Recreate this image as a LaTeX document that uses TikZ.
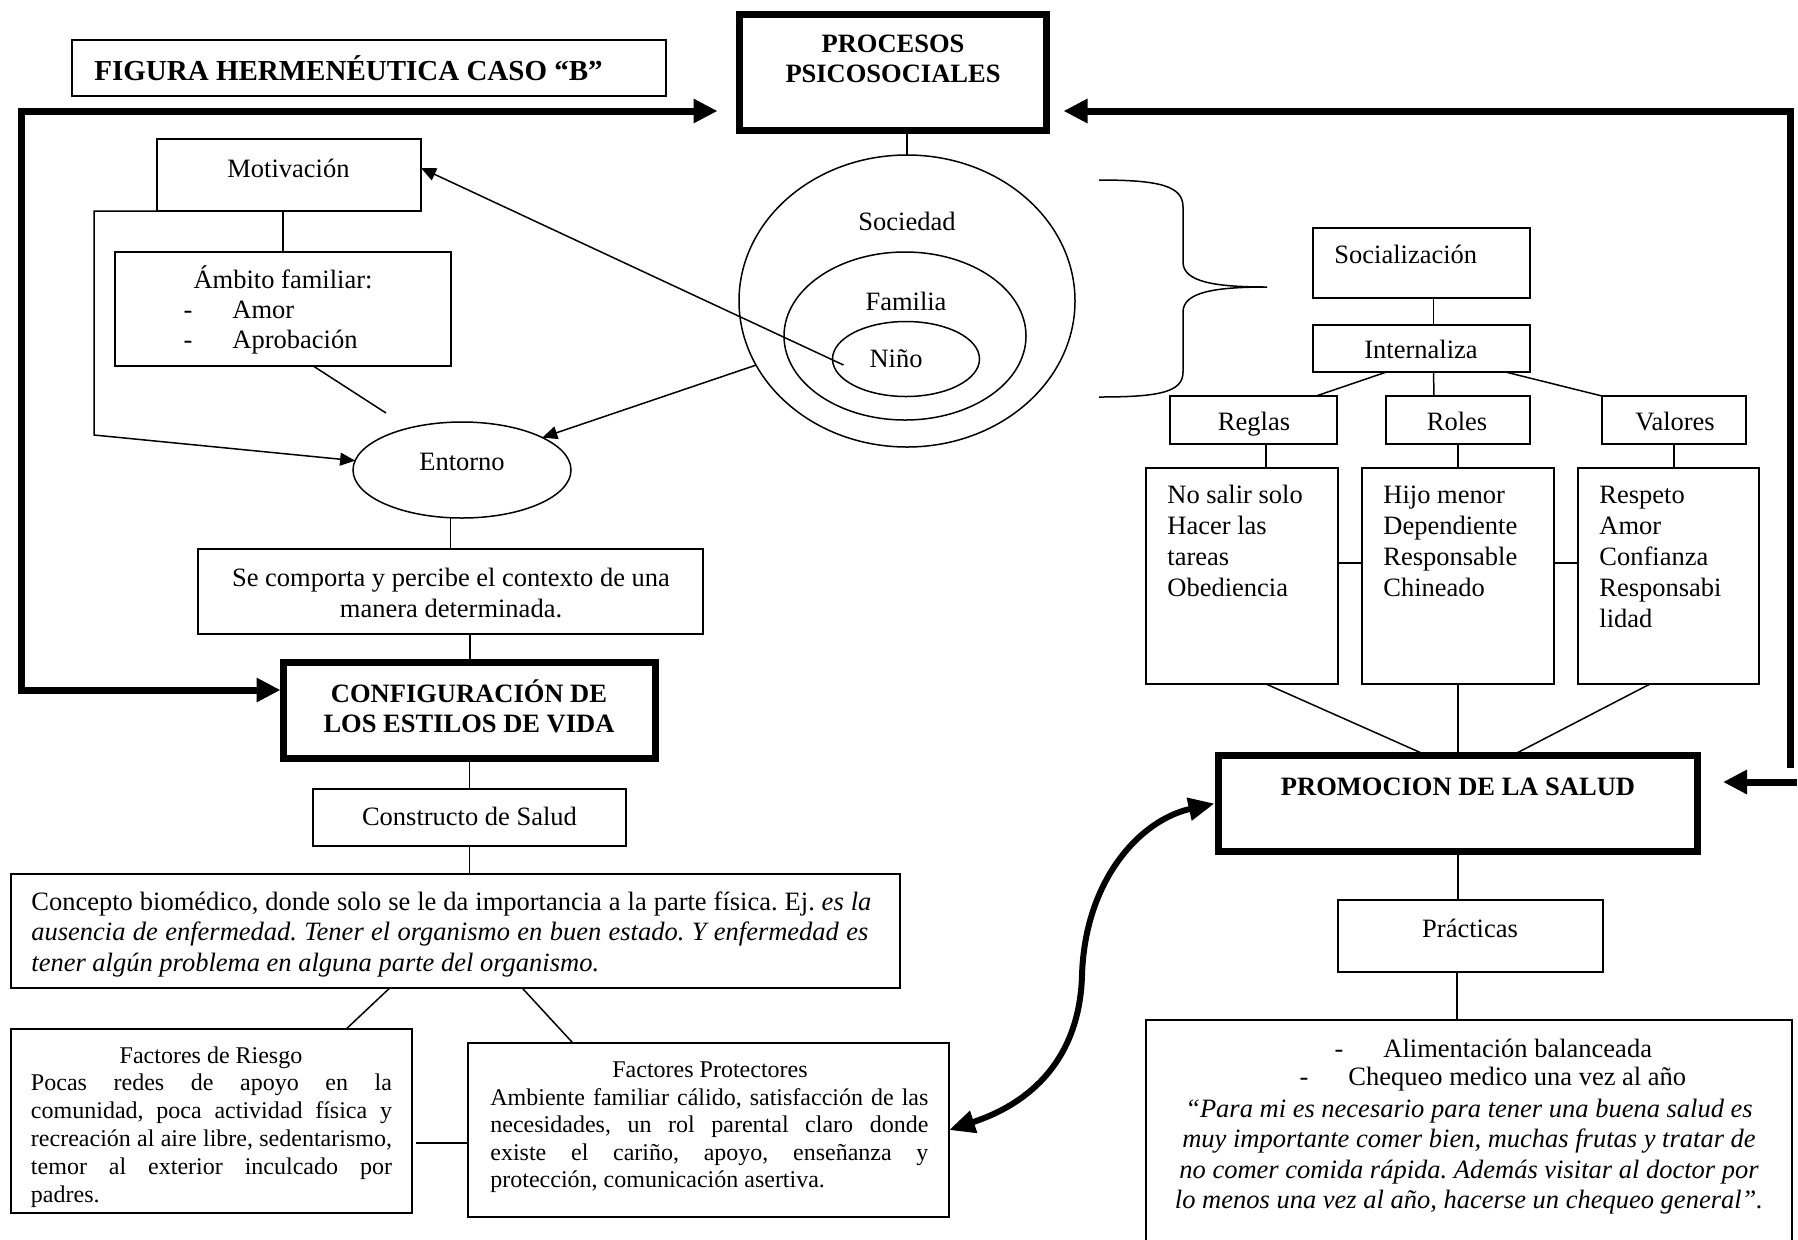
\documentclass[tikz,border=0pt]{standalone}
\usepackage{fontspec}
\setmainfont{Liberation Serif}
\usetikzlibrary{arrows.meta,shapes.geometric,calc}
\frenchspacing

\begin{document}
\begin{tikzpicture}[x=0.5pt, y=-0.5pt,
  rect/.style={draw, line width=0.75pt, inner sep=0pt, outer sep=0pt},
  heavy/.style={draw, line width=3.5pt, inner sep=0pt, outer sep=0pt},
  oval/.style={draw, ellipse, line width=0.75pt, inner sep=0pt, outer sep=0pt},
  txt/.style={inner sep=0pt, font=\fontsize{13.25}{15.5}\selectfont},
  stxt/.style={inner sep=0pt, font=\fontsize{12}{14}\selectfont},
  btxt/.style={inner sep=0pt, font=\fontsize{13.25}{15.5}\selectfont\bfseries},
  link/.style={line width=0.75pt},
  thinarrow/.style={line width=0.75pt, -{Triangle[length=7.5pt,width=6.5pt]}},
  loopline/.style={line width=3.5pt, line join=miter},
  bigtip/.style={-{Triangle[length=12pt,width=11.5pt]}},
  bigtips/.style={{Triangle[length=12pt,width=11.5pt]}-{Triangle[length=12pt,width=11.5pt]}},
  curvetips/.style={line width=3pt, {Triangle[length=13pt,width=11pt]}-{Triangle[length=13pt,width=11pt]}}
]
\clip (0,0) rectangle (1798,1239);
\fill[white] (0,0) rectangle (1798,1239);

% ---------- boxes and ovals ----------
\node[rect, minimum width=297pt, minimum height=28pt] (title) at (369,68) {};
\node[heavy, minimum width=153.5pt, minimum height=58pt] (proc) at (893,72.5) {};
\node[rect, minimum width=132pt, minimum height=36pt] (mot) at (289,175) {};
\node[rect, minimum width=168pt, minimum height=57pt] (amb) at (283,309) {};
\node[oval, minimum width=109pt, minimum height=48pt] (ent) at (462,470) {};
\node[rect, minimum width=252.5pt, minimum height=42.5pt] (comp) at (450.5,591.5) {};
\node[heavy, minimum width=186pt, minimum height=48pt] (cfg) at (469.5,710.5) {};
\node[rect, minimum width=156.5pt, minimum height=28.5pt] (cons) at (469.5,817.5) {};
\node[rect, minimum width=444.5pt, minimum height=57pt] (conc) at (455.5,931) {};
\node[rect, minimum width=200.5pt, minimum height=92pt] (rie) at (211.5,1121) {};
\node[rect, minimum width=240.5pt, minimum height=87pt] (prot) at (708.5,1130) {};
\node[oval, minimum width=168pt, minimum height=146pt] (soc) at (907,301) {};
\node[oval, minimum width=121pt, minimum height=84pt] (fam) at (905,336) {};
\node[oval, minimum width=73.5pt, minimum height=37.5pt] (nino) at (906,359) {};
\node[rect, minimum width=108.5pt, minimum height=35pt] (soci) at (1421.5,263) {};
\node[rect, minimum width=108.5pt, minimum height=23.5pt] (intz) at (1421.5,348.5) {};
\node[rect, minimum width=83.5pt, minimum height=24pt] (reg) at (1253.5,420) {};
\node[rect, minimum width=72pt, minimum height=24pt] (rol) at (1458,420) {};
\node[rect, minimum width=72pt, minimum height=24pt] (val) at (1674,420) {};
\node[rect, minimum width=96pt, minimum height=108pt] (regd) at (1242,576) {};
\node[rect, minimum width=96pt, minimum height=108pt] (rold) at (1458,576) {};
\node[rect, minimum width=90.5pt, minimum height=108pt] (vald) at (1668.5,576) {};
\node[heavy, minimum width=239.5pt, minimum height=48pt] (promo) at (1458,803.5) {};
\node[rect, minimum width=132.5pt, minimum height=36pt] (prac) at (1470.5,936) {};
\node[rect, minimum width=323pt, minimum height=120pt] (prax) at (1469,1140) {};

% ---------- texts ----------
\node[inner sep=0pt, font=\fontsize{14.5}{17}\selectfont\bfseries, anchor=base west] (ttitle) at (94,80) {FIGURA HERMENÉUTICA CASO “B”};
\node[btxt, anchor=base] (tproc1) at (893,52) {PROCESOS};
\node[btxt, anchor=base] (tproc2) at (893,82) {PSICOSOCIALES};
\node[txt, anchor=base] (tmot) at (288.5,177) {Motivación};
\node[txt, anchor=base] (tamb) at (283,288) {Ámbito familiar:};
\node[txt, anchor=base] (tambd1) at (188,318) {-};
\node[txt, anchor=base west] (tamb1) at (232,318) {Amor};
\node[txt, anchor=base] (tambd2) at (188,348) {-};
\node[txt, anchor=base west] (tamb2) at (232,348) {Aprobación};
\node[txt, anchor=base] (tent) at (462,470) {Entorno};
\node[txt, anchor=base] (tcomp1) at (451,586) {Se comporta y percibe el contexto de una};
\node[txt, anchor=base] (tcomp2) at (451,617) {manera determinada.};
\node[btxt, anchor=base] (tcfg1) at (469,702) {CONFIGURACIÓN DE};
\node[btxt, anchor=base] (tcfg2) at (469,732) {LOS ESTILOS DE VIDA};
\node[txt, anchor=base] (tcons) at (469.5,825) {Constructo de Salud};
\node[txt, anchor=base west] (tconc1) at (31,910) {\makebox[420pt][s]{Concepto biomédico, donde solo se le da importancia a la parte física. Ej. \textit{es la}}};
\node[txt, anchor=base west] (tconc2) at (31,940) {\makebox[418.5pt][s]{\itshape ausencia de enfermedad. Tener el organismo en buen estado. Y enfermedad es}};
\node[txt, anchor=base west] (tconc3) at (31,971) {\itshape tener algún problema en alguna parte del organismo.};

\node[stxt, anchor=base] (trie) at (211,1063) {Factores de Riesgo};
\foreach \s [count=\i] in {{Pocas redes de apoyo en la},{comunidad, poca actividad física y},{recreación al aire libre, sedentarismo,},{temor al exterior inculcado por}}
  \node[stxt, anchor=base west] (trie\i) at (30.6,{1090+28*(\i-1)}) {\makebox[180.5pt][s]{\s}};
\node[stxt, anchor=base west] (trie5) at (30.6,1202) {padres.};

\node[stxt, anchor=base] (tprot) at (710,1077) {Factores Protectores};
\foreach \s [count=\i] in {{Ambiente familiar cálido, satisfacción de las},{necesidades, un rol parental claro donde},{existe el cariño, apoyo, enseñanza y}}
  \node[stxt, anchor=base west] (tprot\i) at (490,{1105+27.5*(\i-1)}) {\makebox[219pt][s]{\s}};
\node[stxt, anchor=base west] (tprot4) at (490,1187) {protección, comunicación asertiva.};

\node[txt, anchor=base] (tsoc) at (907,230) {Sociedad};
\node[txt, anchor=base] (tfam) at (906,310) {Familia};
\node[txt, anchor=base] (tnino) at (896,367) {Niño};

\node[txt, anchor=base west] (tsoci) at (1334,263) {Socialización};
\node[txt, anchor=base] (tintz) at (1421,358) {Internaliza};
\node[txt, anchor=base] (treg) at (1254,430) {Reglas};
\node[txt, anchor=base] (trol) at (1457,430) {Roles};
\node[txt, anchor=base] (tval) at (1675,430) {Valores};

\foreach \s [count=\i] in {No salir solo, Hacer las, tareas, Obediencia}
  \node[txt, anchor=base west] (tregd\i) at (1167,{503+31*(\i-1)}) {\s};
\foreach \s [count=\i] in {Hijo menor, Dependiente, Responsable, Chineado}
  \node[txt, anchor=base west] (trold\i) at (1383,{503+31*(\i-1)}) {\s};
\foreach \s [count=\i] in {Respeto, Amor, Confianza, Responsabi, lidad}
  \node[txt, anchor=base west] (tvald\i) at (1599,{503+31*(\i-1)}) {\s};

\node[btxt, anchor=base] (tpromo) at (1458,795) {PROMOCION DE LA SALUD};
\node[txt, anchor=base] (tprac) at (1470,937) {Prácticas};
\node[txt, anchor=base] (tpraxd1) at (1339,1057) {-};
\node[txt, anchor=base west] (tprax1) at (1383,1057) {Alimentación balanceada};
\node[txt, anchor=base] (tpraxd2) at (1304,1085) {-};
\node[txt, anchor=base west] (tprax2) at (1348,1085) {Chequeo medico una vez al año};
\foreach \s [count=\i] in {{“Para mi es necesario para tener una buena salud es},{muy importante comer bien, muchas frutas y tratar de},{no comer comida rápida. Además visitar al doctor por},{lo menos una vez al año, hacerse un chequeo general”.}}
  \node[txt, anchor=base, font=\fontsize{13.25}{15.5}\selectfont\itshape] (tquote\i) at (1469,{1117+30.5*(\i-1)}) {\s};

% ---------- thin connectors ----------
\draw[link] (soc.north) -- (soc.north |- proc.south);
\draw[link] (amb.north) -- (amb.north |- mot.south);
\coordinate (ambtail) at (386,413);
\draw[link] ($(amb.south west)!0.59!(amb.south east)$) -- (ambtail);
\draw[thinarrow] (mot.south west) -- ++(-63,0) -- ++(0,224) -- (ent.175);
\draw[thinarrow] (soc.203) -- (ent.22);
\draw[thinarrow] ($(nino.west)+(11,6)$) -- ($(mot.east)+(0,-7)$);
\draw[link] (comp.north |- ent.south) -- (comp.north);
\draw[link] ($(comp.south)+(19.5,0)$) -- ($(cfg.north)+(0.5,0)$);
\draw[link] (cfg.south) -- (cons.north);
\draw[link] (cons.south) -- (cons.south |- conc.north);
\draw[link] ($(conc.south west)!0.426!(conc.south east)$) -- ($(rie.north west)!0.836!(rie.north east)$);
\draw[link] ($(conc.south west)!0.575!(conc.south east)$) -- ($(prot.north west)!0.218!(prot.north east)$);
\draw[link] ($(rie.east)+(4,22)$) -- ($(prot.west)+(0,13)$);

% bracket gathering the three social spheres
\draw[link] (1099,180) .. controls (1160,180) and (1183,186) .. (1183,207)
  -- (1183,262) .. controls (1183,282) and (1215,287) .. (1267,287)
  .. controls (1215,287) and (1183,292) .. (1183,312)
  -- (1183,372) .. controls (1183,392) and (1160,397) .. (1099,397);

\draw[link] ($(soci.south)+(12,0)$) -- ($(intz.north)+(12,0)$);
\draw[link] ($(intz.south)+(-35,0)$) -- ($(reg.north)+(62.5,0)$);
\draw[link] ($(intz.south)+(12,0)$) -- ($(rol.north)+(-24,0)$);
\draw[link] ($(intz.south)+(84,0)$) -- (val.north west);
\draw[link] ($(reg.south)+(12.5,0)$) -- ($(regd.north)+(24,0)$);
\draw[link] (rol.south) -- (rold.north);
\draw[link] (val.south) -- (val.south |- vald.north);
\draw[link] ($(regd.east)+(0,-13)$) -- ($(rold.west)+(0,-13)$);
\draw[link] ($(rold.east)+(0,-13)$) -- ($(vald.west)+(0,-13)$);
\draw[link] ($(regd.south)+(24,0)$) -- ($(promo.north)+(-31,0)$);
\draw[link] (rold.south) -- (promo.north);
\draw[link] ($(vald.south)+(-18.5,0)$) -- ($(promo.north)+(54,0)$);
\draw[link] (promo.south) -- (promo.south |- prac.north);
\draw[link] ($(prac.south)+(-13.5,0)$) -- ($(prax.north)+(-12,0)$);

% ---------- heavy feedback loops ----------
\coordinate (cornerTL) at (21,111);
\coordinate (cornerBL) at (21,690);
\draw[loopline, bigtips] ($(proc.west)+(-22,38.5)$) -- (cornerTL) -- (cornerBL) -- ($(cfg.west)+(-3,-20.5)$);
\coordinate (cornerTR) at (1790,111);
\coordinate (rightEnd) at (1790,768);
\draw[loopline, bigtip] (rightEnd) -- (cornerTR) -- ($(proc.east)+(17,38.5)$);
\coordinate (rightTail) at (1797,782);
\draw[loopline, bigtip] (rightTail) -- ($(promo.east)+(25.5,-21.5)$);

% two-way curved link between promotion and protective factors
\draw[curvetips] (prot.east) .. controls (1040,1100) and (1080,1050) .. (1082,975)
  .. controls (1085,880) and (1140,820) .. ($(promo.west)+(-4,0)$);
\end{tikzpicture}
\end{document}
